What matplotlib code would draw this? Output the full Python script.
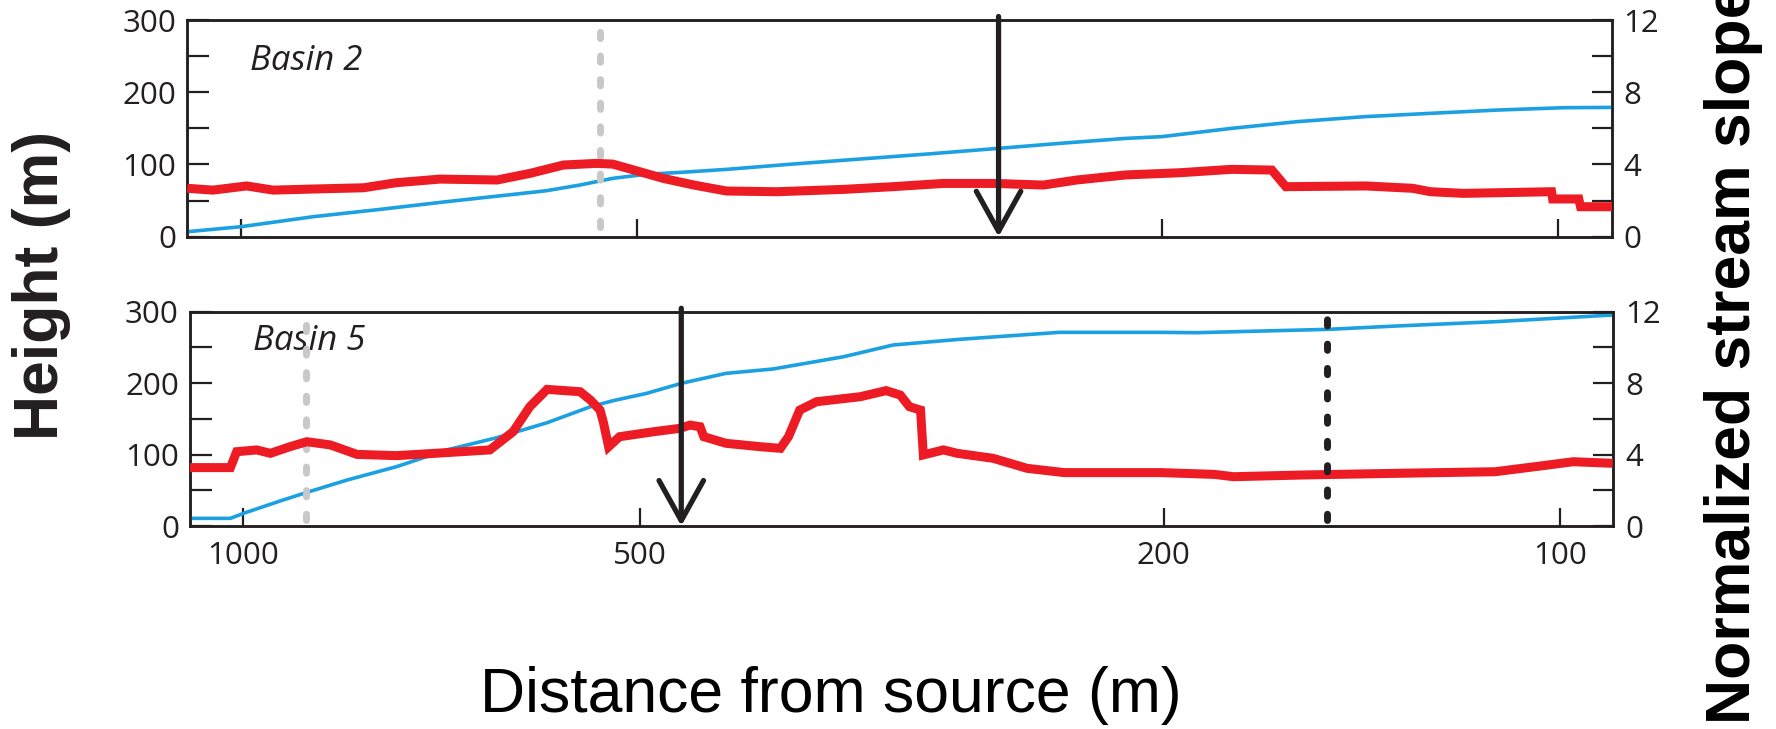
import matplotlib
matplotlib.use("Agg")
import matplotlib.pyplot as plt
from matplotlib.ticker import NullLocator, FixedLocator

# ---------------- data ----------------
# Basin 2
b2_height_dist = [1098, 1000, 881, 784, 698, 621, 586, 553, 522, 492, 464, 428, 381, 339,
                  301, 266, 239, 213, 200, 177, 158, 140.5, 125, 111, 99, 91]
b2_height = [6.9, 13.8, 27.7, 37.8, 48.5, 58.6, 63.7, 71.5, 80.8, 86.5, 89.0, 93.2, 100.6,
             107.5, 114.5, 122.3, 129.2, 136.1, 138.5, 150, 159.2, 166.1, 170.8, 175.4, 178.6, 179]
b2_slope_dist = [1098, 1050, 990, 945, 881, 807, 762, 706, 639, 603, 569, 537, 522, 498, 478,
                 453, 428, 392, 349, 320, 293, 268, 246, 232, 213, 194, 177, 165, 161, 140,
                 129, 125, 118, 101.2, 101, 96.5, 96.2, 91]
b2_slope = [2.68, 2.58, 2.81, 2.58, 2.64, 2.71, 2.99, 3.19, 3.14, 3.51, 3.97, 4.06, 4.02, 3.60,
            3.23, 2.86, 2.53, 2.49, 2.62, 2.77, 2.95, 2.95, 2.86, 3.14, 3.42, 3.54, 3.73, 3.69,
            2.77, 2.81, 2.68, 2.49, 2.40, 2.49, 2.09, 2.09, 1.66, 1.66]

# Basin 5
b5_height_dist = [1098, 1023, 1000, 938, 895, 834, 765, 701, 642, 588, 545, 524, 494, 465,
                  430, 396, 350, 321, 286, 240, 201, 189, 150, 133, 112, 91.2]
b5_height = [10.7, 10.7, 17.7, 35, 47.1, 64.4, 83.1, 106.4, 123.6, 144.6, 167, 175.4, 185.7,
             199.7, 213.7, 219.8, 237, 253.4, 261.3, 271.1, 271.1, 270.6, 275.3, 280, 286, 295.4]
b5_slope_dist = [1098, 1023, 1012, 977, 954, 922, 895, 859, 820, 765, 701, 650, 624, 606, 588,
                 555, 545, 536, 533, 528, 518, 488, 466, 458, 450, 447, 430, 405, 391, 385.5,
                 378, 367, 340, 325, 317, 312, 306, 304.5, 294, 287, 269.5, 254, 238, 201, 183,
                 177, 156, 133, 112, 103, 97.7, 91.2]
b5_slope = [3.27, 3.27, 4.16, 4.26, 4.07, 4.44, 4.72, 4.54, 4.01, 3.94, 4.11, 4.26, 5.28, 6.68,
            7.65, 7.52, 7.05, 6.49, 5.84, 4.44, 5.00, 5.28, 5.47, 5.65, 5.56, 5.00, 4.63, 4.44,
            4.35, 5.00, 6.49, 6.96, 7.24, 7.58, 7.33, 6.68, 6.49, 3.98, 4.26, 4.07, 3.79, 3.23,
            2.99, 2.99, 2.89, 2.76, 2.86, 2.95, 3.04, 3.38, 3.60, 3.51]

# markers (distance from source, m)
b2_gray_mark = 534
b2_arrow = 266
b5_gray_mark = 896
b5_arrow = 465
b5_black_mark = 150.3

x_ticks = [1000, 500, 200, 100]
x_tick_labels = ["1000", "500", "200", "100"]
height_ticks = [0, 100, 200, 300]
height_minor = [50, 150, 250]
slope_ticks = [0, 4, 8, 12]
slope_minor = [2, 6, 10]
x_limits = (1098, 91.1)

# ---------------- style ----------------
BLUE = "#1ba1e2"
RED = "#ed1c24"
DARK = "#231f20"
GRAY = "#c8c8c8"
TICKFONT = "Open Sans"

fig = plt.figure(figsize=(17.76, 7.29), dpi=100)

panels = [
    dict(rect=[187.3 / 1776, (729 - 236.7) / 729, 1424.4 / 1776, 216.7 / 729],
         hd=b2_height_dist, h=b2_height, sd=b2_slope_dist, s=b2_slope,
         name="Basin 2", name_pos=(0.044, 0.769), gray=b2_gray_mark, gray_span=(0.046, 1.015),
         arrow=b2_arrow, black=None, labels=False),
    dict(rect=[190.0 / 1776, (729 - 526.0) / 729, 1423.3 / 1776, 214.3 / 729],
         hd=b5_height_dist, h=b5_height, sd=b5_slope_dist, s=b5_slope,
         name="Basin 5", name_pos=(0.0443, 0.821), gray=b5_gray_mark, gray_span=(0.028, 1.016),
         arrow=b5_arrow, black=b5_black_mark, labels=True),
]

for p in panels:
    ax = fig.add_axes(p["rect"])
    ax2 = ax.twinx()
    ax.set_xscale("log")
    ax.set_xlim(*x_limits)
    ax.set_ylim(0, 300)
    ax2.set_ylim(0, 12)

    ax.plot(p["hd"], p["h"], color=BLUE, lw=2.6, zorder=3, solid_capstyle="butt")
    ax.axvline(p["gray"], ymin=p["gray_span"][0], ymax=p["gray_span"][1], color=GRAY,
               lw=5, dashes=(0.9, 2.5), dash_capstyle="round", clip_on=False, zorder=4)
    ax2.plot(p["sd"], p["s"], color=RED, lw=6.5, zorder=3,
             solid_joinstyle="miter", solid_capstyle="butt")
    if p["black"] is not None:
        ax2.axvline(p["black"], ymin=p["gray_span"][0], ymax=p["gray_span"][1], color=DARK,
                    lw=5, dashes=(0.9, 2.6), dash_capstyle="round", clip_on=False, zorder=5)
    ax2.annotate("", xy=(p["arrow"], 0.0), xytext=(p["arrow"], 1.016),
                 xycoords=("data", "axes fraction"), textcoords=("data", "axes fraction"),
                 arrowprops=dict(arrowstyle="->,head_length=2.88,head_width=1.6",
                                 lw=3.8, color=DARK, shrinkA=0, shrinkB=0,
                                 mutation_scale=10),
                 annotation_clip=False, zorder=6)

    ax.text(p["name_pos"][0], p["name_pos"][1], p["name"], transform=ax.transAxes,
            fontsize=25, fontstyle="italic", family=TICKFONT, color=DARK,
            ha="left", va="baseline")

    # ticks
    ax.set_xticks(x_ticks)
    ax.xaxis.set_minor_locator(NullLocator())
    if p["labels"]:
        ax.set_xticklabels(x_tick_labels)
    else:
        ax.set_xticklabels([])
    ax.set_yticks(height_ticks)
    ax.yaxis.set_minor_locator(FixedLocator(height_minor))
    ax2.set_yticks(slope_ticks)
    ax2.yaxis.set_minor_locator(FixedLocator(slope_minor))

    for a in (ax, ax2):
        for sp in a.spines.values():
            sp.set_linewidth(1.8)
            sp.set_color(DARK)
    ax.tick_params(axis="x", which="both", direction="in", length=13, width=1.6,
                   color=DARK, top=False, pad=11, labelsize=22.5, labelcolor=DARK)
    ax.tick_params(axis="y", which="both", direction="in", length=15.5, width=1.6,
                   color=DARK, right=False, pad=8, labelsize=22.5, labelcolor=DARK)
    ax2.tick_params(axis="y", which="both", direction="in", length=14.5, width=1.6,
                    color=DARK, left=False, pad=8.5, labelsize=22.5, labelcolor=DARK)
    for lab in ax.get_xticklabels() + ax.get_yticklabels() + ax2.get_yticklabels():
        lab.set_family(TICKFONT)

# axis titles
fig.text(58 / 1776, 1 - 285 / 729, "Height (m)", rotation=90, rotation_mode="anchor",
         ha="center", va="baseline", fontsize=45, fontweight="bold",
         family="Liberation Sans", color=DARK)
fig.text(1750 / 1776, 1 - 724 / 729, "Normalized stream slope", rotation=90,
         rotation_mode="anchor", ha="left", va="baseline", fontsize=45, fontweight="bold",
         family="Liberation Sans", color="black")
fig.text(831 / 1776, 1 - 712 / 729, "Distance from source (m)", ha="center",
         va="baseline", fontsize=45, family="Liberation Sans", color="black")

fig.savefig("out.png", dpi=100)
